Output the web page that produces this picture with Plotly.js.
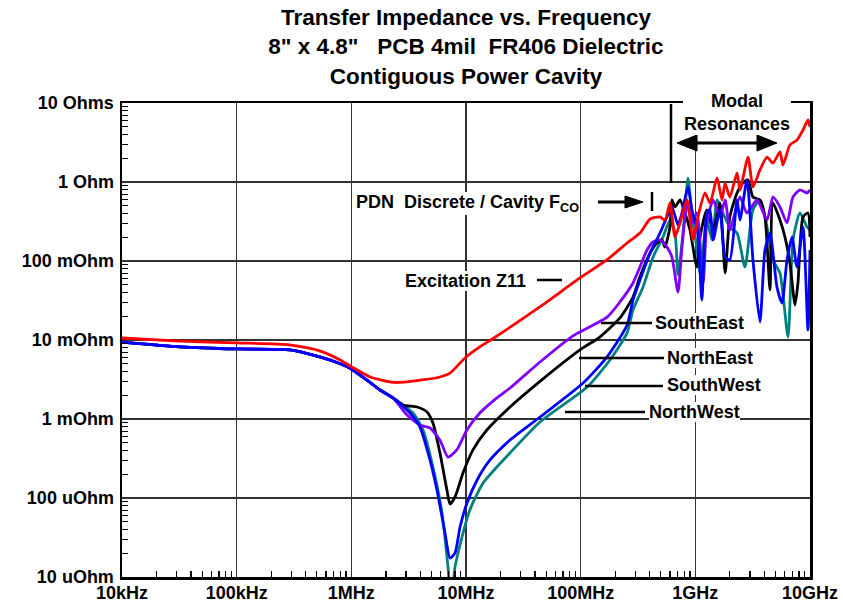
<!DOCTYPE html>
<html>
<head>
<meta charset="utf-8">
<script src="https://cdn.plot.ly/plotly-3.0.1.min.js"></script>
<style>html,body{margin:0;padding:0;background:#fff;}#chart{width:843px;height:605px;}</style>
</head>
<body>
<div id="chart"></div>
<script>
// ---- Data (frequency in Hz, impedance in Ohms) ----
const xTickVals = [1e4, 1e5, 1e6, 1e7, 1e8, 1e9, 1e10];
const xTickText = ['10kHz', '100kHz', '1MHz', '10MHz', '100MHz', '1GHz', '10GHz'];
const yTickVals = [1e-5, 1e-4, 1e-3, 1e-2, 1e-1, 1, 10];
const yTickText = ['10 uOhm', '100 uOhm', '1 mOhm', '10 mOhm', '100 mOhm', '1 Ohm', '10 Ohms'];

// Excitation Z11
const redF = [1e4, 3.2e4, 1e5, 2.9e5, 5.3e5, 8.0e5, 1.0e6, 1.46e6, 2.4e6, 3.97e6, 5.93e6, 7.24e6, 8.87e6, 1.0e7, 1.32e7, 1.75e7, 4.4e7, 9.86e7, 1.69e8, 2.54e8, 3.29e8, 4.03e8, 4.92e8, 5.43e8, 6.01e8, 6.65e8, 7.35e8, 8.45e8, 9.55e8, 1.054e9, 1.213e9, 1.343e9, 1.545e9, 1.71e9, 1.816e9, 2.0e9, 2.31e9, 2.45e9, 2.88e9, 3.18e9, 3.66e9, 4.22e9, 4.75e9, 5.47e9, 5.81e9, 6.68e9, 7.71e9, 8.69e9, 9.61e9, 1e10];
const redZ = [0.0106, 0.0097, 0.0092, 0.0087, 0.0073, 0.0056, 0.0046, 0.0034, 0.0029, 0.0031, 0.0034, 0.0038, 0.0051, 0.0061, 0.0082, 0.0106, 0.0262, 0.061, 0.103, 0.169, 0.226, 0.340, 0.361, 0.330, 0.542, 0.201, 0.303, 0.592, 0.185, 0.361, 0.726, 0.542, 1.125, 0.592, 0.97, 0.646, 1.30, 0.792, 2.07, 0.865, 1.42, 2.07, 1.74, 2.40, 1.64, 2.94, 3.40, 4.55, 6.10, 4.97];

// Shared low-frequency part of the four transfer curves
const lowF = [1e4, 3.2e4, 1e5, 2.9e5, 5.3e5, 8.0e5, 1.0e6, 1.37e6, 1.78e6, 2.31e6];
const lowZ = [0.0094, 0.0082, 0.0077, 0.0075, 0.0061, 0.0050, 0.0043, 0.0031, 0.00233, 0.00185];

// Black
const blackF = [2.82e6, 3.74e6, 4.57e6, 5.15e6, 5.93e6, 6.82e6, 7.25e6, 8.02e6, 9.42e6, 1.15e7, 1.52e7, 2.42e7, 4.42e7, 9.86e7, 1.47e8, 2.20e8, 2.86e8, 3.29e8, 4.03e8, 4.63e8, 5.12e8, 5.43e8, 6.01e8, 6.25e8, 6.65e8, 7.35e8, 8.13e8, 8.98e8, 1.03e9, 1.10e9, 1.26e9, 1.43e9, 1.64e9, 1.82e9, 2.00e9, 2.31e9, 2.60e9, 2.88e9, 3.18e9, 3.66e9, 4.05e9, 4.48e9, 4.75e9, 5.47e9, 6.05e9, 6.68e9, 7.40e9, 7.85e9, 8.69e9, 9.60e9, 1e10];
const blackZ = [0.0015, 0.00142, 0.00123, 0.00089, 0.00037, 0.000126, 0.000084, 0.000103, 0.000207, 0.000406, 0.000726, 0.00142, 0.0030, 0.0075, 0.0109, 0.019, 0.035, 0.063, 0.126, 0.169, 0.185, 0.150, 0.269, 0.592, 0.483, 0.592, 0.406, 0.247, 0.084, 0.201, 0.443, 0.247, 0.542, 0.0705, 0.361, 0.726, 0.97, 1.06, 0.646, 0.592, 0.361, 0.043, 0.542, 0.330, 0.201, 0.0944, 0.0277, 0.0527, 0.361, 0.406, 0.201];

// Purple
const purpleF = [3.06e6, 3.97e6, 4.85e6, 5.93e6, 6.97e6, 8.34e6, 1.02e7, 1.32e7, 1.86e7, 2.42e7, 4.42e7, 8.57e7, 1.70e8, 2.20e8, 2.86e8, 3.29e8, 3.79e8, 4.28e8, 4.92e8, 5.66e8, 6.25e8, 7.06e8, 7.65e8, 8.5e8, 9.35e8, 1.03e9, 1.17e9, 1.26e9, 1.43e9, 1.64e9, 1.82e9, 2.0e9, 2.45e9, 2.82e9, 3.45e9, 4.22e9, 4.75e9, 5.47e9, 6.30e9, 7.11e9, 8.18e9, 9.42e9, 1e10];
const purpleZ = [0.00112, 0.00084, 0.00077, 0.00054, 0.00033, 0.00041, 0.00073, 0.00119, 0.00185, 0.00247, 0.00527, 0.0113, 0.0195, 0.0303, 0.0527, 0.084, 0.138, 0.174, 0.185, 0.150, 0.112, 0.0405, 0.150, 0.542, 0.303, 0.406, 0.0527, 0.303, 0.592, 0.361, 0.592, 0.247, 0.646, 0.406, 0.592, 0.330, 0.646, 0.483, 0.303, 0.646, 0.793, 0.726, 0.793];

// Blue
const blueF = [3.25e6, 3.97e6, 4.85e6, 5.58e6, 6.56e6, 7.25e6, 8.02e6, 8.87e6, 1.02e7, 1.25e7, 1.62e7, 2.42e7, 4.42e7, 1.05e8, 1.70e8, 2.54e8, 2.86e8, 3.29e8, 4.03e8, 4.92e8, 5.66e8, 6.25e8, 7.06e8, 7.65e8, 8.63e8, 9.35e8, 1.05e9, 1.14e9, 1.26e9, 1.34e9, 1.43e9, 1.64e9, 1.82e9, 2.00e9, 2.31e9, 2.45e9, 2.82e9, 3.18e9, 3.66e9, 4.05e9, 4.48e9, 5.15e9, 5.70e9, 6.30e9, 6.97e9, 7.69e9, 8.69e9, 9.60e9, 1e10];
const blueZ = [0.00119, 0.00079, 0.000303, 0.000126, 0.0000361, 0.0000174, 0.0000201, 0.000043, 0.0000865, 0.000169, 0.000303, 0.000542, 0.00106, 0.00286, 0.0061, 0.0155, 0.0321, 0.0574, 0.126, 0.226, 0.361, 0.483, 0.286, 0.406, 0.865, 0.443, 0.226, 0.0321, 0.406, 0.443, 0.185, 0.443, 0.112, 0.103, 0.592, 0.330, 1.06, 0.103, 0.0169, 0.138, 0.226, 0.0469, 0.0294, 0.103, 0.201, 0.084, 0.269, 0.0134, 0.138];

// Teal
const tealF = [3.45e6, 4.22e6, 5.15e6, 6.18e6, 6.97e6, 7.25e6, 7.6e6, 8.02e6, 9.23e6, 1.08e7, 1.41e7, 2.42e7, 4.42e7, 1.14e8, 1.80e8, 2.54e8, 2.86e8, 3.50e8, 4.28e8, 5.22e8, 6.01e8, 6.65e8, 7.06e8, 7.80e8, 8.63e8, 9.35e8, 1.03e9, 1.10e9, 1.26e9, 1.40e9, 1.55e9, 1.74e9, 2.00e9, 2.31e9, 2.71e9, 3.18e9, 3.66e9, 4.22e9, 4.75e9, 5.47e9, 6.43e9, 7.11e9, 8.18e9, 9.42e9, 1e10];
const tealZ = [0.00119, 0.000726, 0.000247, 0.0000646, 0.0000134, 0.0000079, 0.0000079, 0.0000134, 0.0000321, 0.0000705, 0.000155, 0.000372, 0.000916, 0.00254, 0.00558, 0.0123, 0.024, 0.0469, 0.112, 0.201, 0.330, 0.226, 0.0665, 0.226, 1.12, 0.361, 0.150, 0.0705, 0.330, 0.185, 0.592, 0.406, 0.269, 0.226, 0.084, 0.443, 0.592, 0.269, 0.103, 0.0705, 0.0109, 0.185, 0.406, 0.269, 0.247];

// ---- Chart ----
const FONT = 'Liberation Sans, Arial, Helvetica, sans-serif';
const LW = 2.8;
function tr(name, f, z, color) {
  return {type: 'scatter', mode: 'lines', name: name, x: f, y: z,
          line: {color: color, width: LW, shape: 'spline', smoothing: 0.6},
          hoverinfo: 'skip'};
}
const traces = [
  tr('Teal', lowF.concat(tealF), lowZ.concat(tealZ), '#008080'),
  tr('Black', lowF.concat(blackF), lowZ.concat(blackZ), '#000000'),
  tr('Purple', lowF.concat(purpleF), lowZ.concat(purpleZ), '#8000ff'),
  tr('Blue', lowF.concat(blueF), lowZ.concat(blueZ), '#0000ff'),
  tr('Excitation Z11', redF, redZ, '#ff0000')
];

function minorVals(lo, hi) {
  const v = [];
  for (let e = lo; e < hi; e++) for (let m = 2; m <= 9; m++) v.push(m * Math.pow(10, e));
  return v;
}

// pixel -> paper helpers for decoration placement (plot area 122..810 x 103..577)
const PX = p => (p - 122) / 688;
const PY = p => (577 - p) / 474;

const lblFont = {family: FONT, size: 18, color: 'black', weight: 'bold'};
function label(text, x, y) {
  return {text: text, xref: 'paper', yref: 'paper', x: PX(x), y: PY(y),
          xanchor: 'left', yanchor: 'middle', showarrow: false,
          font: lblFont, bgcolor: 'white', borderpad: 0, borderwidth: 0};
}
const LINE = {color: 'black', width: 2.5};
function hline(x0, x1, y, w) {
  return {type: 'line', xref: 'paper', yref: 'paper', x0: PX(x0), x1: PX(x1), y0: PY(y), y1: PY(y),
          line: {color: 'black', width: w || 2.5}};
}
function vline(x, y0, y1) {
  return {type: 'line', xref: 'paper', yref: 'paper', x0: PX(x), x1: PX(x), y0: PY(y0), y1: PY(y1), line: LINE};
}
// filled triangular arrowhead: tip at (tx,ty), pointing in direction dir (+1 right, -1 left)
function head(tx, ty, dir, len, half) {
  const bx = tx - dir * len;
  const p = 'M' + PX(tx) + ',' + PY(ty) + ' L' + PX(bx) + ',' + PY(ty - half) +
            ' L' + PX(bx) + ',' + PY(ty + half) + ' Z';
  return {type: 'path', xref: 'paper', yref: 'paper', path: p,
          fillcolor: 'black', line: {color: 'black', width: 1}};
}

const axisCommon = {
  type: 'log', tickmode: 'array', ticks: 'inside', ticklen: 0, tickwidth: 1.5, tickcolor: 'black',
  showgrid: true, gridcolor: '#333333', gridwidth: 1.2,
  showline: true, linecolor: 'black', linewidth: 2.5, mirror: true, zeroline: false,
  tickfont: {family: FONT, size: 18, color: 'black', weight: 'bold'},
  fixedrange: true
};

const layout = {
  width: 843, height: 605, autosize: false,
  margin: {l: 122, r: 33, t: 103, b: 28, pad: 0},
  paper_bgcolor: 'white', plot_bgcolor: 'white',
  showlegend: false,
  title: {
    text: '<b>Transfer Impedance vs. Frequency</b><br><b>8" x 4.8"\u00a0\u00a0\u00a0PCB 4mil\u00a0\u00a0FR406 Dielectric</b><br><b>Contiguous Power Cavity</b>',
    font: {family: FONT, size: 22.5, color: 'black'},
    xref: 'paper', x: 0.5, xanchor: 'center',
    yref: 'container', y: 1 - 25 / 605, yanchor: 'middle'
  },
  xaxis: Object.assign({}, axisCommon, {
    range: [4, 10], tickvals: xTickVals, ticktext: xTickText, ticklabelstandoff: -2,
    minor: {tickmode: 'array', tickvals: minorVals(4, 10), ticks: 'inside', ticklen: 6,
            tickwidth: 1.3, tickcolor: 'black', showgrid: false}
  }),
  yaxis: Object.assign({}, axisCommon, {
    range: [-5, 1], tickvals: yTickVals, ticktext: yTickText, ticklabelstandoff: 2,
    minor: {tickmode: 'array', tickvals: minorVals(-5, 1), ticks: 'inside', ticklen: 6,
            tickwidth: 1.3, tickcolor: 'black', showgrid: false}
  }),
  shapes: [
    vline(671, 104, 183),          // bracket side of modal region
    hline(690, 765, 143, 3),       // modal double arrow shaft
    head(677, 143, -1, 20, 8),
    head(777, 143, 1, 20, 8),
    hline(598, 628, 202, 3),       // F_CO arrow shaft
    head(643, 202, 1, 18, 6),
    vline(652, 192, 211),          // F_CO marker
    hline(537, 562, 280),          // Excitation Z11 leader
    hline(601, 652, 323),          // SouthEast leader
    hline(579, 664, 358),          // NorthEast leader
    hline(585, 663, 386),          // SouthWest leader
    hline(565, 645, 412)           // NorthWest leader
  ],
  annotations: [
    {text: 'Modal<br>Resonances', xref: 'paper', yref: 'paper', x: PX(737), y: PY(112),
     xanchor: 'center', yanchor: 'middle', showarrow: false, font: lblFont,
     bgcolor: 'white', borderpad: 1, borderwidth: 0},
    label('PDN\u00a0\u00a0Discrete / Cavity F<sub>CO</sub>', 356, 203),
    label('Excitation Z11', 405, 281),
    label('SouthEast', 655, 323),
    label('NorthEast', 667, 358),
    label('SouthWest', 667, 385),
    label('NorthWest', 649, 412)
  ]
};

Plotly.newPlot('chart', traces, layout, {displayModeBar: false, staticPlot: true});
</script>
</body>
</html>
